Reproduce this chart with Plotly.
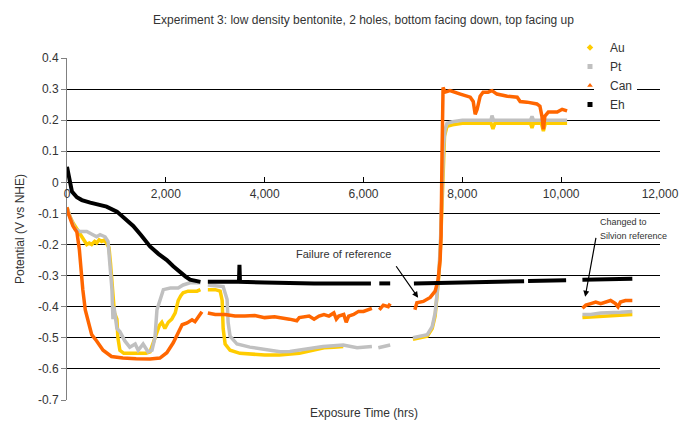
import plotly.graph_objects as go

N = None
# ---------------- data ----------------
au_x = [0, 60, 120, 200, 260, 300, 350, 400, 450, 500, 560, 600, 650, 700, 760, 810, 850, 880, 910, 930, 960, 1010, 1030, 1070,
        1150, 1210, 1300, 1400, 1480, 1600, 1680, 1740, 1780, 1820, 1870, 1920, 1980, 2050, 2120, 2190, 2250, 2300, 2350, 2450,
        2550, 2630, 2700, N,
        2850, 3000, 3100, 3140, 3160, 3200, 3300, 3500, 4000, 4300, 4700, 5000, 5200, 5400, 5590, N,
        7000, 7200, 7290, 7390, 7450, 7490, 7530, 7560, 7580, 7600, 7620, 7640, 7690, 7800, 8000, 8300, 8580, 8620, 8660, 9000,
        9380, 9410, 9440, 9600, 9640, 9680, 9900, 10120, N,
        10430, 10700, 11000, 11200, 11440]
au_y = [-0.08, -0.11, -0.13, -0.15, -0.17, -0.18, -0.19, -0.2, -0.195, -0.2, -0.19, -0.195, -0.185, -0.19, -0.185, -0.2, -0.21,
        -0.26, -0.32, -0.39, -0.42, -0.44, -0.5, -0.54, -0.55, -0.55, -0.55, -0.55, -0.55, -0.55, -0.545, -0.52, -0.5, -0.48,
        -0.46, -0.45, -0.47, -0.45, -0.44, -0.42, -0.38, -0.365, -0.355, -0.35, -0.35, -0.35, -0.345, N,
        -0.345, -0.345, -0.35, -0.38, -0.47, -0.52, -0.54, -0.55, -0.555, -0.555, -0.55, -0.54, -0.532, -0.53, -0.528, N,
        -0.505, -0.5, -0.495, -0.47, -0.43, -0.36, -0.29, -0.2, -0.1, 0.0, 0.1, 0.15, 0.18, 0.185, 0.19, 0.19, 0.19, 0.172,
        0.19, 0.19, 0.19, 0.175, 0.19, 0.19, 0.165, 0.19, 0.19, 0.19, N,
        -0.435, -0.432, -0.43, -0.428, -0.425]

pt_x = [0, 60, 160, 260, 400, 500, 600, 670, 770, 830, 870, 910, 930, 950, 1010, 1070, 1170, 1270, 1380, 1440, 1540, 1640,
        1720, 1780, 1820, 1880, 1950, 2090, 2250, 2350, 2490, 2700, N,
        2850, 3160, 3240, 3260, 3300, 3440, 3700, 4310, 4510, 5180, 5590, 5870, 6170, N,
        6300, 6540, N,
        7000, 7290, 7390, 7450, 7490, 7530, 7560, 7580, 7600, 7620, 7650, 7690, 7800, 8000, 8580, 8600, 8630, 9380, 9410,
        9440, 10120, N,
        10430, 10600, 10800, 11000, 11200, 11440]
pt_y = [-0.08, -0.11, -0.15, -0.158, -0.158, -0.168, -0.175, -0.168, -0.175, -0.19, -0.26, -0.345, -0.44, -0.4, -0.47, -0.48,
        -0.51, -0.53, -0.52, -0.54, -0.52, -0.545, -0.54, -0.5, -0.41, -0.38, -0.345, -0.34, -0.34, -0.33, -0.323, -0.323, N,
        -0.33, -0.335, -0.377, -0.45, -0.495, -0.52, -0.53, -0.545, -0.544, -0.528, -0.523, -0.532, -0.528, N,
        -0.532, -0.523, N,
        -0.5, -0.49, -0.464, -0.42, -0.355, -0.28, -0.18, -0.08, 0.03, 0.12, 0.17, 0.19, 0.195, 0.2, 0.2, 0.215, 0.2, 0.2,
        0.212, 0.2, 0.2, N,
        -0.425, -0.425, -0.42, -0.42, -0.418, -0.415]

can_x = [0, 20, 120, 200, 250, 280, 320, 370, 430, 500, 600, 730, 900, 1130, 1400, 1680, 1880, 2020, 2150, 2250, 2330, 2430,
         2530, 2590, 2650, 2730, N,
         2850, 3000, 3200, 3400, 3600, 3800, 4000, 4200, 4500, 4650, 4700, 4900, 5000, 5100, 5200, 5300, 5400, 5450, 5500,
         5600, 5650, 5700, 5800, 5900, 6000, 6100, 6170, N,
         6320, 6400, 6500, 6540, N,
         7040, 7080, 7210, 7350, 7450, 7510, 7550, 7570, 7590, 7610, 7650, 7750, 7960, 8160, 8220, 8260, 8300, 8360, 8420,
         8520, 8600, 8700, 8910, 9110, 9170, 9310, 9510, 9570, 9610, 9640, 9670, 9740, 9920, 10020, 10120, N,
         10430, 10500, 10600, 10700, 10800, 10900, 11000, 11100, 11150, 11200, 11300, 11440]
can_y = [-0.08, -0.097, -0.14, -0.16, -0.216, -0.28, -0.345, -0.41, -0.45, -0.49, -0.51, -0.54, -0.56, -0.565, -0.567, -0.568,
         -0.565, -0.548, -0.516, -0.484, -0.458, -0.452, -0.442, -0.448, -0.432, -0.416, N,
         -0.42, -0.425, -0.425, -0.43, -0.43, -0.428, -0.435, -0.432, -0.44, -0.445, -0.435, -0.43, -0.44, -0.43, -0.425,
         -0.43, -0.42, -0.44, -0.43, -0.425, -0.45, -0.43, -0.425, -0.415, -0.415, -0.41, -0.405, N,
         -0.41, -0.395, -0.4, -0.39, N,
         -0.41, -0.387, -0.383, -0.37, -0.35, -0.313, -0.25, -0.17, 0.1, 0.305, 0.29, 0.295, 0.284, 0.274, 0.26, 0.219, 0.235,
         0.277, 0.29, 0.29, 0.295, 0.284, 0.277, 0.274, 0.26, 0.258, 0.252, 0.245, 0.213, 0.171, 0.213, 0.226, 0.226, 0.235,
         0.23, N,
         -0.405, -0.395, -0.39, -0.385, -0.39, -0.385, -0.38, -0.39, -0.4, -0.385, -0.38, -0.38]

eh_x = [0, 30, 60, 100, 200, 300, 470, 600, 800, 1010, 1150, 1340, 1500, 1680, 1850, 2020, 2150, 2290, 2400, 2490, 2600, 2700,
        N,
        2850, 3400, 3480, 3490, 3500, 4000, 5000, 6150, N,
        6320, 6540, N,
        7020, 7600, 8200, 8800, 9250, N,
        9330, 10100, N,
        10430, 11440]
eh_y = [0.05, 0.02, -0.01, -0.03, -0.048, -0.057, -0.065, -0.07, -0.078, -0.094, -0.112, -0.14, -0.17, -0.206, -0.23, -0.25,
        -0.27, -0.29, -0.303, -0.313, -0.318, -0.32, N,
        -0.32, -0.32, -0.32, -0.265, -0.32, -0.322, -0.325, -0.325, N,
        -0.325, -0.325, N,
        -0.325, -0.324, -0.322, -0.32, -0.318, N,
        -0.317, -0.315, N,
        -0.313, -0.31]

series_names = ["Au", "Pt", "Can", "Eh"]
series_colors = ["#FFCC00", "#C0C0C0", "#FF6600", "#000000"]
legend_symbols = ["diamond", "square", "triangle-up", "square"]

x_ticks = [0, 2000, 4000, 6000, 8000, 10000, 12000]
x_ticktext = ["0", "2,000", "4,000", "6,000", "8,000", "10,000", "12,000"]
y_ticks = [0.4, 0.3, 0.2, 0.1, 0, -0.1, -0.2, -0.3, -0.4, -0.5, -0.6, -0.7]
y_ticktext = ["0.4", "0.3", "0.2", "0.1", "0", "-0.1", "-0.2", "-0.3", "-0.4", "-0.5", "-0.6", "-0.7"]

FONT = "Arial, 'Liberation Sans', sans-serif"
TXT = "#333333"

fig = go.Figure()
xs = [au_x, pt_x, can_x, eh_x]
ys = [au_y, pt_y, can_y, eh_y]
widths = [3.5, 3.5, 3.5, 4]
for name, x, y, c, w in zip(series_names, xs, ys, series_colors, widths):
    fig.add_trace(go.Scatter(x=x, y=y, mode="lines", line=dict(color=c, width=w), name=name,
                             showlegend=False, connectgaps=False, hoverinfo="skip"))
for name, c, s in zip(series_names, series_colors, legend_symbols):
    fig.add_trace(go.Scatter(x=[None], y=[None], mode="markers", name=name,
                             marker=dict(color=c, symbol=s, size=5)))

fig.update_layout(
    width=681, height=432,
    margin=dict(l=67, r=21, t=58, b=32, autoexpand=False),
    paper_bgcolor="white", plot_bgcolor="white",
    font=dict(family=FONT, size=12, color=TXT),
    title=dict(text="Experiment 3: low density bentonite, 2 holes, bottom facing down, top facing up",
               x=0.5, xref="paper", xanchor="center", y=1 - 20 / 432, yanchor="middle",
               font=dict(size=12, color=TXT)),
    showlegend=True,
    legend=dict(x=570 / 681, y=1 - 33 / 432, xref="container", yref="container", xanchor="left", yanchor="top",
                bgcolor="rgba(0,0,0,0)", font=dict(size=12, color=TXT), itemwidth=30, tracegroupgap=0),
    xaxis=dict(range=[0, 12000], showgrid=False, zeroline=False, showline=True, linecolor="#000000", linewidth=1,
               anchor="free", position=0.7 / 1.1, ticks="inside", ticklen=5, tickcolor="#000000", automargin=False,
               tickvals=x_ticks, ticktext=x_ticktext, tickfont=dict(size=12, color=TXT)),
    yaxis=dict(range=[-0.7, 0.4], showgrid=True, gridcolor="#000000", gridwidth=1, zeroline=False, automargin=False,
               showline=True, linecolor="#808080", ticks="outside", ticklen=5, tickcolor="#808080",
               tickvals=y_ticks, ticktext=y_ticktext, tickfont=dict(size=12, color=TXT)),
    shapes=[dict(type="rect", xref="paper", yref="paper", x0=(594 - 67) / 593, x1=(637 - 67) / 593,
                 y0=(400 - 112) / 342, y1=1.07, fillcolor="white", line=dict(width=0), layer="above")],
    annotations=[
        dict(text="Potential (V vs NHE)", xref="paper", yref="paper", x=(20 - 67) / 593, y=0.5, textangle=-90,
             showarrow=False, xanchor="center", yanchor="middle", font=dict(size=12, color=TXT)),
        dict(text="Exposure Time (hrs)", xref="paper", yref="paper", x=0.5, y=(400 - 413) / 342,
             showarrow=False, xanchor="center", yanchor="middle", font=dict(size=12, color=TXT)),
        dict(text="Failure of reference", xref="x", yref="y", x=5587, y=-0.232, showarrow=False,
             xanchor="center", yanchor="middle", font=dict(size=11, color=TXT)),
        dict(text="Changed to", xref="x", yref="y", x=10749, y=-0.129, showarrow=False,
             xanchor="left", yanchor="middle", font=dict(size=9, color=TXT)),
        dict(text="Silvion reference", xref="x", yref="y", x=10749, y=-0.171, showarrow=False,
             xanchor="left", yanchor="middle", font=dict(size=9, color=TXT)),
        dict(text="", xref="x", yref="y", x=7105, y=-0.371, axref="x", ayref="y", ax=6640, ay=-0.265,
             showarrow=True, arrowhead=2, arrowsize=1, arrowwidth=1.2, arrowcolor="#000000"),
        dict(text="", xref="x", yref="y", x=10486, y=-0.368, axref="x", ayref="y", ax=10709, ay=-0.174,
             showarrow=True, arrowhead=2, arrowsize=1, arrowwidth=1.2, arrowcolor="#000000"),
    ],
)

fig.write_html("out.html", config={"displayModeBar": False},
               post_script="document.body.style.margin='0';document.body.style.overflow='hidden';")
